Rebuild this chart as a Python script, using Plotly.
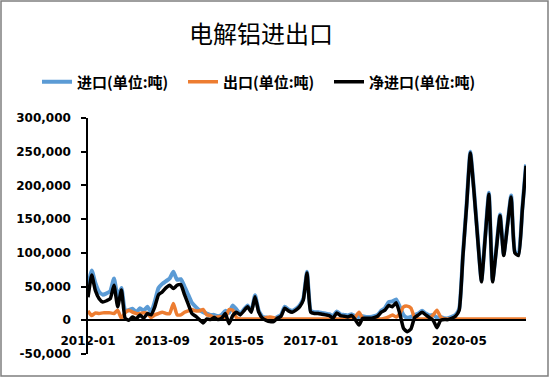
import plotly.graph_objects as go
import pandas as pd

# Monthly categories 2012-01 .. 2021-11
months = pd.date_range("2012-01-01", periods=119, freq="MS").strftime("%Y-%m").tolist()
x_tick_labels = ["2012-01", "2013-09", "2015-05", "2017-01", "2018-09", "2020-05"]
y_tick_values = [-50000, 0, 50000, 100000, 150000, 200000, 250000, 300000]
y_tick_labels = ["-50,000", "0", "50,000", "100,000", "150,000", "200,000", "250,000", "300,000"]

imports = [
    48000, 74000, 55000, 42000, 38000, 40000, 43000, 62000, 35000, 48000, 14000, 15000,
    17000, 12000, 18000, 14000, 20000, 12000, 28000, 48000, 54000, 58000, 62000, 72000,
    60000, 61000, 50000, 38000, 26000, 20000, 15000, 12000, 10000, 8000, 8000, 6000,
    8000, 14000, 11000, 22000, 16000, 10000, 16000, 22000, 14000, 37000, 14000, 5000,
    4000, 3000, 2000, 5000, 8000, 20000, 16000, 14000, 17000, 22000, 32000, 72000,
    14000, 12000, 12000, 11000, 10000, 9000, 6000, 13000, 9000, 8000, 7000, 9000,
    6000, 5000, 6000, 5000, 5000, 6000, 8000, 14000, 18000, 27000, 28000, 31000,
    20000, 8000, 4000, 5000, 8000, 10000, 14000, 10000, 7000, 8000, 4000, 5000,
    3000, 3000, 5000, 8000, 17000, 97000, 172000, 250000, 192000, 122000, 59000, 124000,
    189000, 59000, 107000, 157000, 98000, 142000, 185000, 102000, 98000, 165000, 231000,
]
exports = [
    14000, 7000, 11000, 10000, 11000, 11000, 11000, 10000, 15000, 3000, 11000, 15000,
    12000, 10000, 10000, 11000, 10000, 4000, 8000, 10000, 12000, 10000, 10000, 25000,
    8000, 8000, 12000, 14000, 16000, 14000, 14000, 16000, 8000, 7000, 4000, 5000,
    5000, 4000, 16000, 15000, 4000, 2000, 2000, 2000, 2000, 2000, 2000, 2000,
    4000, 5000, 4000, 2000, 2000, 2000, 2000, 2000, 2000, 2000, 2000, 2000,
    2000, 2000, 2000, 2000, 2000, 2000, 3000, 2000, 2000, 2000, 2000, 2000,
    5000, 12000, 3000, 2000, 2000, 2000, 2000, 2000, 3000, 5000, 8000, 5000,
    10000, 20000, 21000, 18000, 4000, 2000, 2000, 2000, 3000, 8000, 15000, 5000,
    2000, 2000, 2000, 2000, 2000, 2000, 2000, 2000, 2000, 2000, 2000, 2000,
    2000, 2000, 2000, 2000, 2000, 2000, 2000, 2000, 2000, 2000, 2000,
]
net_imports = [
    34000, 67000, 44000, 32000, 27000, 29000, 32000, 52000, 20000, 45000, 3000, 0,
    5000, 2000, 8000, 3000, 10000, 8000, 20000, 38000, 42000, 48000, 52000, 47000,
    52000, 53000, 38000, 24000, 10000, 6000, 1000, -4000, 2000, 1000, 4000, 1000,
    3000, 10000, -5000, 7000, 12000, 8000, 14000, 20000, 12000, 35000, 12000, 3000,
    0, -2000, -2000, 3000, 6000, 18000, 14000, 12000, 15000, 20000, 30000, 70000,
    12000, 10000, 10000, 9000, 8000, 7000, 3000, 11000, 7000, 6000, 5000, 7000,
    1000, -7000, 3000, 3000, 3000, 4000, 6000, 12000, 15000, 22000, 20000, 26000,
    10000, -12000, -17000, -13000, 4000, 8000, 12000, 8000, 4000, 0, -11000, 0,
    1000, 1000, 3000, 6000, 15000, 95000, 170000, 248000, 190000, 120000, 57000, 122000,
    187000, 57000, 105000, 155000, 96000, 140000, 183000, 100000, 96000, 163000, 229000,
]

series_names = ["进口(单位:吨)", "出口(单位:吨)", "净进口(单位:吨)"]
series_colors = ["#5B9BD5", "#ED7D31", "#000000"]
series_widths = [4, 3.5, 3.5]

fig = go.Figure()
for name, vals, color, w in zip(series_names, [imports, exports, net_imports], series_colors, series_widths):
    fig.add_trace(go.Scatter(
        x=months, y=vals, name=name, mode="lines",
        line=dict(color=color, width=w, shape="spline", smoothing=0.45),
    ))

L, R, T, B = 88, 24, 118, 24
W, H = 550, 378
pw, ph = W - L - R, H - T - B

fig.update_layout(
    width=W, height=H,
    margin=dict(l=L, r=R, t=T, b=B),
    paper_bgcolor="white", plot_bgcolor="white",
    title=dict(text="电解铝进出口", x=261 / W, xref="container", xanchor="center",
               y=1 - 35 / H, yref="container", yanchor="middle",
               font=dict(family="Noto Sans CJK SC", size=24, color="black")),
    legend=dict(orientation="h", x=(37 - L) / pw, xanchor="left",
                y=(H - B - 82) / ph, yanchor="middle",
                font=dict(family="Noto Sans CJK SC", size=15, color="black", weight="bold"),
                itemwidth=30, tracegroupgap=0,
                entrywidth=101, entrywidthmode="pixels"),
    xaxis=dict(type="category", range=[0, len(months) - 1],
               tickvals=x_tick_labels, ticktext=x_tick_labels,
               showline=True, linecolor="black", linewidth=1.5,
               showgrid=False, zeroline=False,
               anchor="free", position=50000 / 350000,
               ticks="outside", ticklen=10, tickcolor="rgba(0,0,0,0)",
               tickfont=dict(family="DejaVu Sans", size=12, color="black", weight="bold")),
    yaxis=dict(range=[-50000, 300000], tickvals=y_tick_values, ticktext=y_tick_labels,
               showline=True, linecolor="black", linewidth=1.5,
               showgrid=False, zeroline=False,
               ticks="outside", ticklen=5, tickwidth=1.5, tickcolor="black",
               ticklabelstandoff=8,
               tickfont=dict(family="DejaVu Sans", size=12, color="black", weight="bold")),
    shapes=[dict(type="rect", xref="paper", yref="paper",
                 x0=(1 - L) / pw, x1=(548 - L) / pw,
                 y0=(H - B - 376) / ph, y1=(H - B - 1) / ph,
                 line=dict(color="#7f7f7f", width=1.5), fillcolor="rgba(0,0,0,0)",
                 layer="below")],
)

fig.write_html("out.html", config={"displayModeBar": False},
               post_script="document.body.style.margin='0';document.body.style.overflow='hidden';")
